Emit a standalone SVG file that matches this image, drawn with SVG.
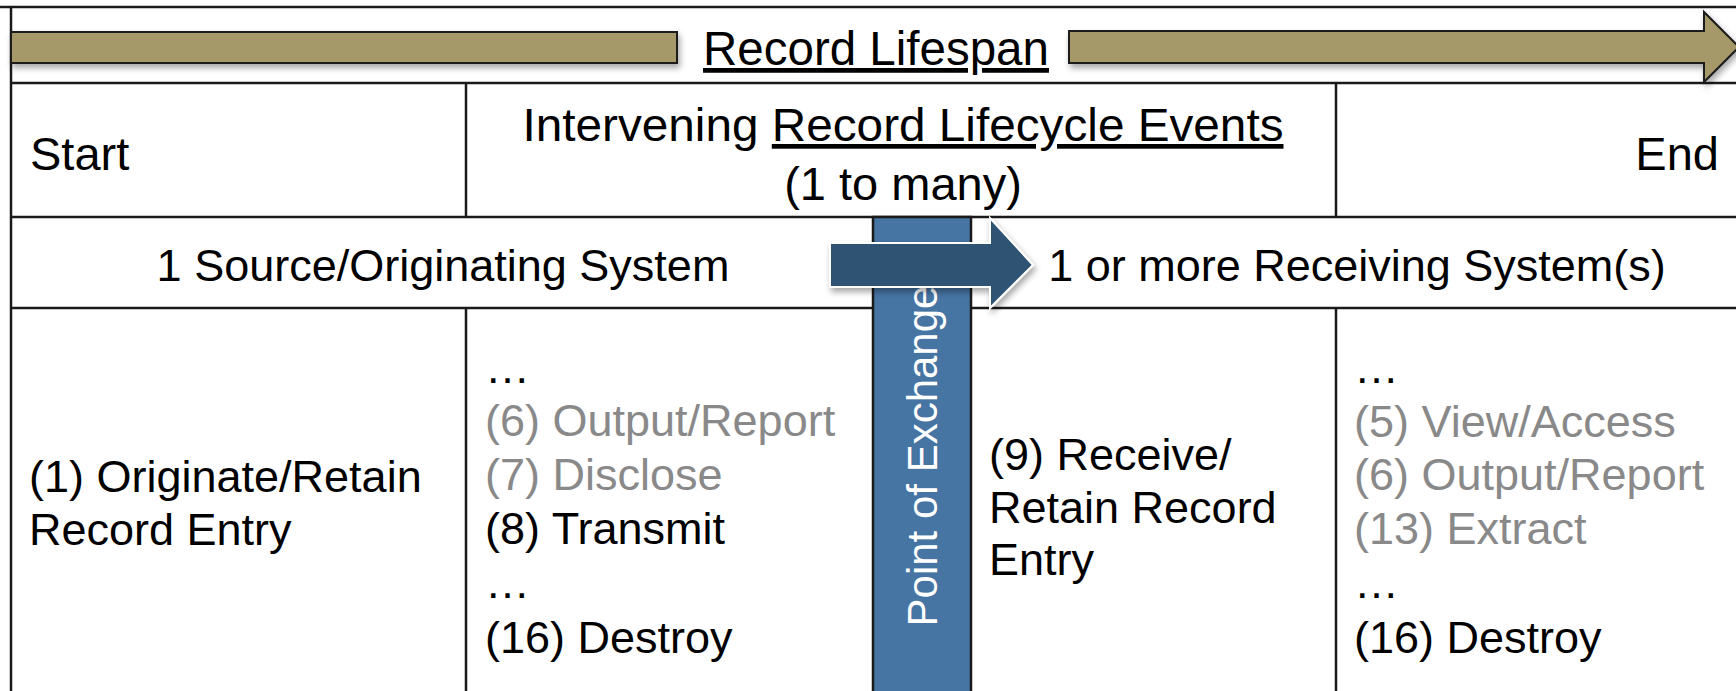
<svg xmlns="http://www.w3.org/2000/svg" width="1736" height="691" viewBox="0 0 1736 691">
<style>
.grid{stroke:#1a1a1a;stroke-width:2.5;fill:none}
.t{font-family:"Liberation Sans",Arial,sans-serif;fill:#000}
.hd{font-size:47px}
.bd{font-size:45px}
.gray{fill:#898989}
.bar{fill:#A59869;stroke:#1a1a1a;stroke-width:2}
.ul{text-decoration:underline}
</style>
<defs>
<filter id="sh" x="-5%" y="-30%" width="110%" height="180%">
<feDropShadow dx="2" dy="4" stdDeviation="3" flood-color="#000" flood-opacity="0.35"/>
</filter>
</defs>
<rect x="0" y="0" width="1736" height="691" fill="#fff"/>
<g id="table">
<line class="grid" x1="0" y1="7" x2="1736" y2="7"/>
<line class="grid" x1="11" y1="7" x2="11" y2="691"/>
<line class="grid" x1="11" y1="83" x2="1736" y2="83"/>
<line class="grid" x1="11" y1="217" x2="1736" y2="217"/>
<line class="grid" x1="11" y1="308" x2="1736" y2="308"/>
<line class="grid" x1="466" y1="83" x2="466" y2="217"/>
<line class="grid" x1="1336" y1="83" x2="1336" y2="217"/>
<line class="grid" x1="466" y1="308" x2="466" y2="691"/>
<line class="grid" x1="1336" y1="308" x2="1336" y2="691"/>
</g>
<g id="lifespan">
<rect class="bar" x="11" y="32" width="666" height="31" filter="url(#sh)"/>
<polygon class="bar" points="1069,31 1704,31 1704,12 1739,47 1704,82 1704,63 1069,63" filter="url(#sh)"/>
<text class="t ul" x="876" y="65" font-size="47.5" text-anchor="middle">Record Lifespan</text>
</g>
<g id="hdr-start"><text class="t hd" x="30" y="170">Start</text></g>
<g id="hdr-intervening">
<text class="t hd" x="903" y="141" text-anchor="middle" textLength="761" lengthAdjust="spacingAndGlyphs">Intervening <tspan class="ul">Record Lifecycle Events</tspan></text>
<text class="t hd" x="903" y="200" text-anchor="middle">(1 to many)</text>
</g>
<g id="hdr-end"><text class="t hd" x="1719" y="170" text-anchor="end">End</text></g>
<g id="src-system"><text class="t bd" x="443" y="281" text-anchor="middle">1 Source/Originating System</text></g>
<g id="recv-system"><text class="t bd" x="1357" y="281" text-anchor="middle">1 or more Receiving System(s)</text></g>
<g id="cell-originate">
<text class="t bd" x="29" y="492">(1) Originate/Retain</text>
<text class="t bd" x="29" y="545">Record Entry</text>
</g>
<g id="cell-intervening-src">
<text class="t bd" x="485" y="383">…</text>
<text class="t bd gray" x="485" y="436">(6) Output/Report</text>
<text class="t bd gray" x="485" y="490">(7) Disclose</text>
<text class="t bd" x="485" y="544">(8) Transmit</text>
<text class="t bd" x="485" y="598">…</text>
<text class="t bd" x="485" y="653">(16) Destroy</text>
</g>
<g id="point-of-exchange">
<rect x="873" y="217" width="98" height="480" fill="#4674A3" stroke="#1a1a1a" stroke-width="2.5"/>
<text class="t" font-size="42" style="fill:#fff" text-anchor="middle" transform="translate(937,456) rotate(-90)">Point of Exchange</text>
</g>
<g id="cell-receive">
<text class="t bd" x="989" y="470">(9) Receive/</text>
<text class="t bd" x="989" y="523">Retain Record</text>
<text class="t bd" x="989" y="575">Entry</text>
</g>
<g id="cell-end-recv">
<text class="t bd" x="1354" y="383">…</text>
<text class="t bd gray" x="1354" y="437">(5) View/Access</text>
<text class="t bd gray" x="1354" y="490">(6) Output/Report</text>
<text class="t bd gray" x="1354" y="544">(13) Extract</text>
<text class="t bd" x="1354" y="598">…</text>
<text class="t bd" x="1354" y="653">(16) Destroy</text>
</g>
<g id="connectors">
<polygon points="830,243 990,243 990,218 1033,265 990,308 990,287 830,287" fill="#2F5273" stroke="#fff" stroke-width="2" filter="url(#sh)"/>
</g>
</svg>
